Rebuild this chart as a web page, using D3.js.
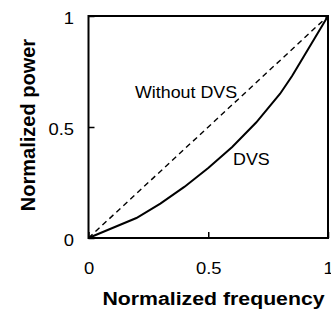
<!DOCTYPE html>
<html>
<head>
<meta charset="utf-8">
<script src="https://cdn.jsdelivr.net/npm/d3@7"></script>
<style>
  body { margin: 0; background: #fff; }
  text { font-family: Arial, "Liberation Sans", sans-serif; fill: #000; }
</style>
</head>
<body>
<div id="chart"></div>
<script>
//Normalized frequency sample points
var freq = [0, 0.1, 0.2, 0.3, 0.4, 0.5, 0.6, 0.7, 0.8, 0.85, 0.9, 1];
//Normalized power with DVS
var powerDVS = [0, 0.045, 0.09, 0.155, 0.23, 0.315, 0.41, 0.52, 0.65, 0.73, 0.82, 1];
//Without DVS power follows frequency
var freqNoDVS = [0, 1];
var powerNoDVS = [0, 1];
var xTicks = [0, 0.5, 1];
var yTicks = [0, 0.5, 1];

var width = 331;
var height = 310;
var margin = { top: 16, right: 3, bottom: 72, left: 88.5 };
//text in the original is a bit wider than Arial
var stretch = 1.15;

var svg = d3.select("#chart")
    .append("svg")
    .attr("width", width)
    .attr("height", height);

var x = d3.scaleLinear().domain([0, 1]).range([margin.left, width - margin.right]);
var y = d3.scaleLinear().domain([0, 1]).range([height - margin.bottom, margin.top]);

//Axes with ticks pointing into the plot
var xAxis = d3.axisBottom(x)
    .tickValues(xTicks)
    .tickFormat(function(d){ return String(d); })
    .tickSizeInner(-6)
    .tickSizeOuter(0)
    .tickPadding(24.6);

var yAxis = d3.axisLeft(y)
    .tickValues(yTicks)
    .tickFormat(function(d){ return String(d); })
    .tickSizeInner(-6)
    .tickSizeOuter(0)
    .tickPadding(14.5);

var gx = svg.append("g")
    .attr("transform", "translate(0," + y(0) + ")")
    .call(xAxis);
var gy = svg.append("g")
    .attr("transform", "translate(" + x(0) + ",0)")
    .call(yAxis);

[gx, gy].forEach(function(g){
    g.select(".domain").remove();
    g.selectAll(".tick line").attr("stroke", "#000").attr("stroke-width", 1.5);
    g.selectAll(".tick text")
        .style("font-size", "16px")
        .style("font-family", "Arial, 'Liberation Sans', sans-serif")
        .attr("transform", "scale(" + stretch + ",1)");
});
gy.selectAll(".tick text")
    .attr("dy", "0.45em")
    .attr("x", -14.5 / stretch);

//Plot frame
svg.append("rect")
    .attr("x", x(0))
    .attr("y", y(1))
    .attr("width", x(1) - x(0))
    .attr("height", y(0) - y(1))
    .attr("fill", "none")
    .attr("stroke", "#000")
    .attr("stroke-width", 2);

var line = d3.line()
    .x(function(d){ return x(d[0]); })
    .y(function(d){ return y(d[1]); });

//Without DVS - dashed diagonal
svg.append("path")
    .datum(d3.zip(freqNoDVS, powerNoDVS))
    .attr("d", line)
    .attr("fill", "none")
    .attr("stroke", "#000")
    .attr("stroke-width", 1.4)
    .attr("stroke-dasharray", "5.5,4");

//DVS curve
svg.append("path")
    .datum(d3.zip(freq, powerDVS))
    .attr("d", line)
    .attr("fill", "none")
    .attr("stroke", "#000")
    .attr("stroke-width", 2);

//Curve labels
svg.append("text")
    .attr("transform", "translate(135,98.3) scale(1.05,1)")
    .style("font-size", "17px")
    .text("Without DVS");

svg.append("text")
    .attr("transform", "translate(233,165) scale(1.05,1)")
    .style("font-size", "17px")
    .text("DVS");

//Axis titles
svg.append("text")
    .attr("transform", "translate(213.5,305) scale(1.12,1)")
    .attr("text-anchor", "middle")
    .style("font-size", "19px")
    .style("font-weight", "bold")
    .text("Normalized frequency");

svg.append("text")
    .attr("transform", "translate(35,125) rotate(-90)")
    .attr("text-anchor", "middle")
    .style("font-size", "20px")
    .style("font-weight", "bold")
    .text("Normalized power");
</script>
</body>
</html>
